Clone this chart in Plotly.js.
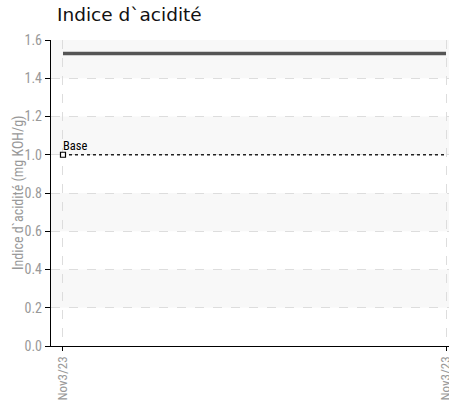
<!DOCTYPE html>
<html>
<head>
<meta charset="utf-8">
<script src="https://cdn.plot.ly/plotly-3.0.1.min.js"></script>
<style>html,body{margin:0;padding:0;background:#fff}#chart{width:449px;height:402px}</style>
</head>
<body>
<div id="chart"></div>
<script>
// Data
const dateLabels = ["Nov3/23", "Nov3/23"];
const acidValues = [1.53, 1.53];
const baseValues = [1.0, 1.0];
const baseLabel = "Base";
const yTicks = [0, 0.2, 0.4, 0.6, 0.8, 1.0, 1.2, 1.4, 1.6];

const xIdx = dateLabels.map((_, i) => i);
const narrow = '"Liberation Sans Narrow", "Roboto Condensed", "DejaVu Sans Condensed", sans-serif';

// alternating shaded bands between ticks
const shapes = [];
for (let i = 1; i < yTicks.length - 1; i += 2) {
  shapes.push({
    type: 'rect', xref: 'paper', yref: 'y', layer: 'below',
    x0: 0, x1: 1, y0: yTicks[i], y1: yTicks[i + 1],
    fillcolor: '#f8f8f8', line: {width: 0}
  });
}

const traces = [
  {
    x: xIdx, y: acidValues, type: 'scatter', mode: 'lines',
    line: {color: '#555555', width: 3.5}, hoverinfo: 'skip'
  },
  {
    x: xIdx, y: baseValues, type: 'scatter', mode: 'lines',
    line: {color: '#222222', width: 1.5, dash: 'dot'}, hoverinfo: 'skip'
  },
  {
    x: [xIdx[0]], y: [baseValues[0]], type: 'scatter', mode: 'markers',
    marker: {symbol: 'square', size: 5, color: '#ffffff', line: {color: '#000000', width: 1.2}},
    hoverinfo: 'skip'
  }
];

const layout = {
  width: 449, height: 402,
  margin: {l: 51, r: 0, t: 40, b: 56},
  paper_bgcolor: '#ffffff', plot_bgcolor: 'rgba(0,0,0,0)',
  showlegend: false,
  title: {
    text: 'Indice d`acidité', x: 0, xref: 'paper', xanchor: 'left',
    y: 1, yref: 'container', yanchor: 'top', pad: {t: 8, l: 6},
    font: {family: '"DejaVu Sans", sans-serif', size: 18.5, color: '#111111'}
  },
  xaxis: {
    range: [-0.0313, 1.0078],
    tickmode: 'array', tickvals: xIdx, ticktext: dateLabels,
    tickangle: -90, ticks: 'outside', ticklen: 4, tickcolor: '#000', tickwidth: 1,
    ticklabeloverflow: 'allow',
    showline: true, linecolor: '#000', linewidth: 1.2,
    showgrid: true, gridcolor: '#dddddd', griddash: 'dash', gridwidth: 1,
    zeroline: false,
    tickfont: {family: narrow, size: 13, color: '#999999'}
  },
  yaxis: {
    range: [0, 1.6],
    tickmode: 'array', tickvals: yTicks, ticktext: yTicks.map(v => v.toFixed(1)),
    ticks: 'outside', ticklen: 5, tickcolor: '#000', tickwidth: 1,
    showline: true, linecolor: '#000', linewidth: 1.2,
    showgrid: true, gridcolor: '#dddddd', griddash: 'dash', gridwidth: 1,
    zeroline: false,
    tickfont: {family: narrow, size: 14, color: '#999999'}
  },
  shapes: shapes,
  annotations: [{
    x: xIdx[0], y: baseValues[0], xref: 'x', yref: 'y',
    text: baseLabel, showarrow: false, xanchor: 'left', yanchor: 'bottom',
    xshift: -2, yshift: 0,
    font: {family: narrow, size: 12.5, color: '#000000'}
  }, {
    x: 0, y: 0.5, xref: 'paper', yref: 'paper',
    text: 'Indice d`acidité (mg KOH/g)', showarrow: false, textangle: -90,
    xanchor: 'center', yanchor: 'middle', xshift: -33,
    font: {family: narrow, size: 14, color: '#999999'}
  }]
};

Plotly.newPlot('chart', traces, layout, {displayModeBar: false, staticPlot: true});
</script>
</body>
</html>
